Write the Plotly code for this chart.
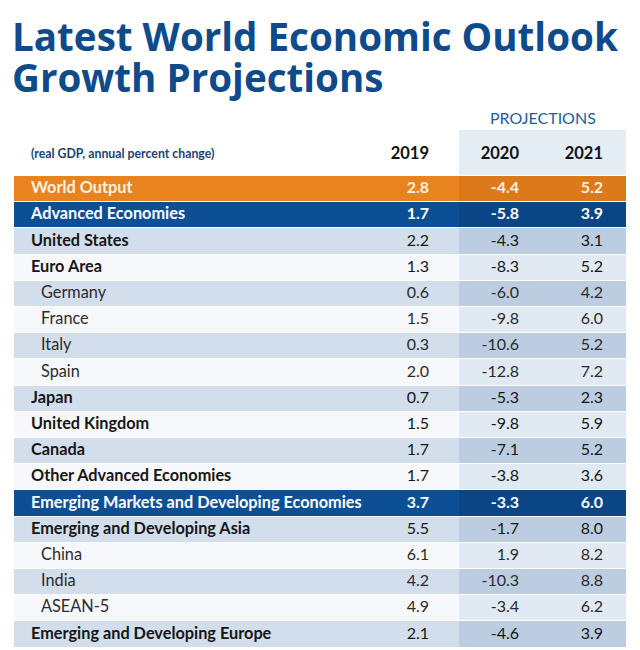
import plotly.graph_objects as go

# ---------------- data ----------------
labels = ["World Output", "Advanced Economies", "United States", "Euro Area",
          "Germany", "France", "Italy", "Spain", "Japan", "United Kingdom",
          "Canada", "Other Advanced Economies",
          "Emerging Markets and Developing Economies",
          "Emerging and Developing Asia", "China", "India", "ASEAN-5",
          "Emerging and Developing Europe"]
# 0 = headline row, 1 = group row, 2 = indented sub-row
levels = [0, 0, 1, 1, 2, 2, 2, 2, 1, 1, 1, 1, 0, 1, 2, 2, 2, 1]
y2019 = [2.8, 1.7, 2.2, 1.3, 0.6, 1.5, 0.3, 2.0, 0.7, 1.5, 1.7, 1.7, 3.7, 5.5, 6.1, 4.2, 4.9, 2.1]
y2020 = [-4.4, -5.8, -4.3, -8.3, -6.0, -9.8, -10.6, -12.8, -5.3, -9.8, -7.1, -3.8, -3.3, -1.7, 1.9, -10.3, -3.4, -4.6]
y2021 = [5.2, 3.9, 3.1, 5.2, 4.2, 6.0, 5.2, 7.2, 2.3, 5.9, 5.2, 3.6, 6.0, 8.0, 8.2, 8.8, 6.2, 3.9]
years = ["2019", "2020", "2021"]
subtitle = "(real GDP, annual percent change)"
title1 = "Latest World Economic Outlook"
title2 = "Growth Projections"
proj_label = "PROJECTIONS"

# ---------------- styles / layout constants ----------------
FONT = "Lato"
TITLE_FONT = "Open Sans"
TITLE_C = "#0f4a8a"
# palette index: 0 orange, 1 orange(proj), 2 blue, 3 blue(proj), 4 light, 5 light(proj),
#                6 white, 7 white(proj), 8 header(proj)
palette = ["#e9831f", "#dc7a1b", "#0d4f95", "#0a4686", "#d2deeb", "#bdcde1",
           "#f6f8fb", "#e1e9f2", "#e4ecf4"]

TABLE_W = 612          # table width in px
HEADER_H = 46          # header height in px
HEADER_TXT = 25        # header text centre within header
ROW_H = 26.2           # body row height in px
SPLIT_X = 445          # start of the projections block
RIGHT_2019, RIGHT_2020, RIGHT_2021 = 415, 505, 589
LABEL_X, INDENT_X = 17, 27

# figure sizing: browser page adds an 8 px body margin
OFF = 8
W, H = 640 - OFF, 650 - OFF
def px(x):
    return (x - OFF) / W
def py(y):
    return 1 - (y - OFF) / H

TABLE_TOP, TABLE_LEFT = 130, 14
TABLE_H = 520

# ---------------- derived row styles ----------------
n = len(labels)
base_code, proj_code, txt_col = [], [], []
alt = 0
for i, lv in enumerate(levels):
    if i == 0:
        base_code.append(0); proj_code.append(1); txt_col.append("#fdf1e2")
    elif lv == 0:
        base_code.append(2); proj_code.append(3); txt_col.append("#ffffff")
        alt = 0
    else:
        if alt % 2 == 0:
            base_code.append(4); proj_code.append(5)
        else:
            base_code.append(6); proj_code.append(7)
        alt += 1
        txt_col.append("#161616" if lv == 1 else "#2b2b2b")
lab_w = ["bold" if lv < 2 else "normal" for lv in levels]
num_w = ["bold" if lv == 0 else "normal" for lv in levels]

# fills: header row + body rows
z = [[None, 8]] + [[b, p] for b, p in zip(base_code, proj_code)]
y_edges = [0, HEADER_H] + [HEADER_H + ROW_H * (i + 1) for i in range(n)]
row_c = [HEADER_H + ROW_H * (i + 0.5) for i in range(n)]

k = len(palette) - 1
colorscale = [[i / k, c] for i, c in enumerate(palette)]

fig = go.Figure()
fig.add_trace(go.Heatmap(
    z=z, x=[0, SPLIT_X, TABLE_W], y=y_edges,
    colorscale=colorscale, zmin=0, zmax=k, showscale=False,
    ygap=1, hoverinfo="skip",
))

fmt = lambda v: f"{v:.1f}"
# labels
fig.add_trace(go.Scatter(
    x=[INDENT_X if lv == 2 else LABEL_X for lv in levels], y=row_c,
    mode="text", text=labels, textposition="middle right",
    textfont=dict(family=FONT, size=16.3, color=txt_col, weight=lab_w),
    hoverinfo="skip", showlegend=False,
))
for xr, vals in zip([RIGHT_2019, RIGHT_2020, RIGHT_2021], [y2019, y2020, y2021]):
    fig.add_trace(go.Scatter(
        x=[xr] * n, y=row_c, mode="text", text=[fmt(v) for v in vals],
        textposition="middle left",
        textfont=dict(family=FONT, size=16, color=txt_col, weight=num_w),
        hoverinfo="skip", showlegend=False,
    ))
# header
fig.add_trace(go.Scatter(
    x=[LABEL_X], y=[HEADER_TXT], mode="text", text=[subtitle],
    textposition="middle right",
    textfont=dict(family=FONT, size=12.3, color="#1d3f6e", weight="bold"),
    hoverinfo="skip", showlegend=False,
))
fig.add_trace(go.Scatter(
    x=[RIGHT_2019, RIGHT_2020, RIGHT_2021], y=[HEADER_TXT] * 3, mode="text",
    text=years, textposition="middle left",
    textfont=dict(family=FONT, size=16.5, color="#111111", weight="bold"),
    hoverinfo="skip", showlegend=False,
))

fig.add_annotation(text=f"<b>{title1}</b>", x=px(10), y=py(8),
                   xref="paper", yref="paper", xanchor="left", yanchor="top",
                   showarrow=False, font=dict(family=TITLE_FONT, size=38.6, color=TITLE_C))
fig.add_annotation(text=f"<b>{title2}</b>", x=px(10), y=py(49),
                   xref="paper", yref="paper", xanchor="left", yanchor="top",
                   showarrow=False, font=dict(family=TITLE_FONT, size=38.6, color=TITLE_C))
fig.add_annotation(text=proj_label, x=px(543), y=py(117.5),
                   xref="paper", yref="paper", xanchor="center", yanchor="middle",
                   showarrow=False, font=dict(family=FONT, size=16, color="#1f5c9c"))

fig.update_layout(
    width=W, height=H, margin=dict(l=0, r=0, t=0, b=0),
    paper_bgcolor="#ffffff", plot_bgcolor="rgba(0,0,0,0)",
    xaxis=dict(range=[0, TABLE_W], domain=[px(TABLE_LEFT), px(TABLE_LEFT + TABLE_W)],
               visible=False, fixedrange=True),
    yaxis=dict(range=[TABLE_H, 0], domain=[py(TABLE_TOP + TABLE_H), py(TABLE_TOP)],
               visible=False, fixedrange=True),
    showlegend=False,
)
fig.write_html("out.html", config={"displayModeBar": False})
